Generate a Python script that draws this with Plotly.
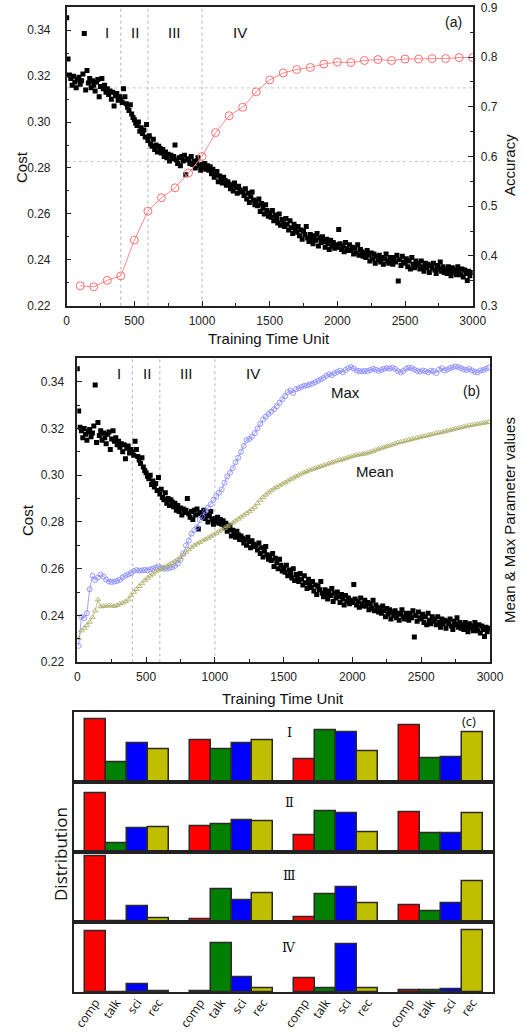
import plotly.graph_objects as go

# ---------------- data ----------------
cost_time = list(range(0, 3000, 10))
cost_values = [
    0.3455, 0.3275, 0.3205, 0.3190, 0.3160, 0.3200, 0.3175, 0.3150, 0.3185, 0.3195,
    0.3165, 0.3180, 0.3210, 0.3386, 0.3140, 0.3225, 0.3170, 0.3190, 0.3150, 0.3180,
    0.3160, 0.3135, 0.3175, 0.3185, 0.3110, 0.3155, 0.3190, 0.3145, 0.3160, 0.3130,
    0.3145, 0.3120, 0.3135, 0.3100, 0.3130, 0.3070, 0.3115, 0.3125, 0.3095, 0.3110,
    0.3100, 0.3085, 0.3145, 0.3110, 0.3080, 0.3065, 0.3050, 0.3075, 0.3035, 0.3020,
    0.3010, 0.2995, 0.2985, 0.3000, 0.2960, 0.2975, 0.2950, 0.2965, 0.2935, 0.2990,
    0.2920, 0.2940, 0.2905, 0.2895, 0.2925, 0.2880, 0.2900, 0.2870, 0.2895, 0.2885,
    0.2865, 0.2880, 0.2850, 0.2870, 0.2845, 0.2860, 0.2830, 0.2855, 0.2840, 0.2850,
    0.2900, 0.2835, 0.2820, 0.2845, 0.2810, 0.2850, 0.2830, 0.2855, 0.2770, 0.2835,
    0.2840, 0.2820, 0.2850, 0.2815, 0.2830, 0.2800, 0.2825, 0.2845, 0.2810, 0.2790,
    0.2815, 0.2800, 0.2820, 0.2795, 0.2810, 0.2790, 0.2805, 0.2775, 0.2795, 0.2760,
    0.2770, 0.2785, 0.2740, 0.2765, 0.2750, 0.2735, 0.2760, 0.2745, 0.2725, 0.2740,
    0.2730, 0.2710, 0.2725, 0.2700, 0.2735, 0.2715, 0.2690, 0.2720, 0.2705, 0.2695,
    0.2700, 0.2680, 0.2710, 0.2665, 0.2690, 0.2650, 0.2675, 0.2695, 0.2660, 0.2640,
    0.2655, 0.2635, 0.2665, 0.2610, 0.2645, 0.2625, 0.2600, 0.2640, 0.2615, 0.2590,
    0.2605, 0.2585, 0.2615, 0.2570, 0.2595, 0.2580, 0.2560, 0.2600, 0.2550, 0.2575,
    0.2565, 0.2545, 0.2580, 0.2555, 0.2530, 0.2570, 0.2540, 0.2515, 0.2555, 0.2535,
    0.2520, 0.2545, 0.2505, 0.2530, 0.2490, 0.2525, 0.2510, 0.2545, 0.2495, 0.2480,
    0.2510, 0.2490, 0.2470, 0.2505, 0.2485, 0.2515, 0.2460, 0.2495, 0.2475, 0.2500,
    0.2480, 0.2455, 0.2490, 0.2470, 0.2445, 0.2485, 0.2460, 0.2475, 0.2450, 0.2465,
    0.2455, 0.2532, 0.2470, 0.2445, 0.2460, 0.2435, 0.2475, 0.2450, 0.2440, 0.2465,
    0.2440, 0.2455, 0.2425, 0.2450, 0.2430, 0.2465, 0.2420, 0.2445, 0.2435, 0.2415,
    0.2430, 0.2410, 0.2440, 0.2420, 0.2395, 0.2430, 0.2405, 0.2425, 0.2385, 0.2415,
    0.2400, 0.2420, 0.2390, 0.2410, 0.2380, 0.2405, 0.2425, 0.2395, 0.2385, 0.2410,
    0.2395, 0.2380, 0.2410, 0.2390, 0.2420, 0.2308, 0.2400, 0.2375, 0.2415, 0.2390,
    0.2385, 0.2405, 0.2370, 0.2395, 0.2360, 0.2410, 0.2380, 0.2365, 0.2395, 0.2375,
    0.2385, 0.2360, 0.2395, 0.2370, 0.2350, 0.2385, 0.2365, 0.2380, 0.2345, 0.2375,
    0.2365, 0.2385, 0.2355, 0.2340, 0.2375, 0.2360, 0.2390, 0.2350, 0.2370, 0.2345,
    0.2360, 0.2340, 0.2370, 0.2350, 0.2330, 0.2365, 0.2345, 0.2355, 0.2335, 0.2370,
    0.2350, 0.2335, 0.2360, 0.2325, 0.2355, 0.2340, 0.2310, 0.2350, 0.2330, 0.2345,
]

acc_time = list(range(100, 3001, 100))
acc_values = [
    0.340, 0.338, 0.351, 0.360, 0.432, 0.490, 0.517, 0.537, 0.567, 0.600,
    0.648, 0.682, 0.699, 0.730, 0.754, 0.768, 0.775, 0.779, 0.786, 0.790,
    0.789, 0.793, 0.795, 0.793, 0.796, 0.796, 0.797, 0.797, 0.799, 0.799,
]

param_time = list(range(10, 3000, 20))
max_values = [
    0.2270, 0.2395, 0.2388, 0.2410, 0.2512, 0.2570, 0.2552, 0.2562, 0.2575, 0.2566,
    0.2554, 0.2545, 0.2543, 0.2545, 0.2548, 0.2553, 0.2563, 0.2570, 0.2576, 0.2581,
    0.2590, 0.2594, 0.2592, 0.2593, 0.2595, 0.2593, 0.2597, 0.2600, 0.2605, 0.2610,
    0.2604, 0.2600, 0.2601, 0.2603, 0.2606, 0.2612, 0.2622, 0.2638, 0.2666, 0.2700,
    0.2720, 0.2750, 0.2765, 0.2778, 0.2808, 0.2822, 0.2845, 0.2862, 0.2875, 0.2895,
    0.2910, 0.2925, 0.2940, 0.2968, 0.2995, 0.3010, 0.3030, 0.3055, 0.3075, 0.3100,
    0.3125, 0.3150, 0.3155, 0.3165, 0.3180, 0.3200, 0.3220, 0.3238, 0.3250, 0.3262,
    0.3272, 0.3282, 0.3295, 0.3310, 0.3325, 0.3338, 0.3355, 0.3362, 0.3352, 0.3368,
    0.3372, 0.3378, 0.3382, 0.3384, 0.3388, 0.3392, 0.3398, 0.3404, 0.3410, 0.3416,
    0.3425, 0.3432, 0.3428, 0.3436, 0.3442, 0.3447, 0.3440, 0.3450, 0.3458, 0.3463,
    0.3456, 0.3448, 0.3445, 0.3444, 0.3446, 0.3445, 0.3450, 0.3455, 0.3452, 0.3446,
    0.3450, 0.3455, 0.3458, 0.3456, 0.3460, 0.3455, 0.3445, 0.3440, 0.3446, 0.3455,
    0.3460, 0.3458, 0.3452, 0.3446, 0.3443, 0.3448, 0.3445, 0.3440, 0.3447, 0.3445,
    0.3437, 0.3452, 0.3458, 0.3448, 0.3452, 0.3458, 0.3462, 0.3465, 0.3462, 0.3458,
    0.3452, 0.3450, 0.3455, 0.3448, 0.3442, 0.3440, 0.3448, 0.3450, 0.3455, 0.3460,
]
mean_values = [
    0.2303, 0.2335, 0.2346, 0.2358, 0.2372, 0.2392, 0.2420, 0.2468, 0.2438, 0.2440,
    0.2441, 0.2443, 0.2442, 0.2440, 0.2444, 0.2450, 0.2454, 0.2460, 0.2468, 0.2485,
    0.2500, 0.2512, 0.2525, 0.2537, 0.2550, 0.2560, 0.2570, 0.2578, 0.2587, 0.2595,
    0.2600, 0.2606, 0.2612, 0.2618, 0.2624, 0.2632, 0.2640, 0.2649, 0.2660, 0.2672,
    0.2682, 0.2692, 0.2700, 0.2707, 0.2713, 0.2720, 0.2726, 0.2732, 0.2738, 0.2745,
    0.2752, 0.2760, 0.2767, 0.2774, 0.2781, 0.2788, 0.2796, 0.2805, 0.2813, 0.2821,
    0.2829, 0.2837, 0.2845, 0.2854, 0.2864, 0.2879, 0.2894, 0.2906, 0.2916, 0.2926,
    0.2935, 0.2943, 0.2949, 0.2956, 0.2963, 0.2969, 0.2976, 0.2983, 0.2989, 0.2995,
    0.3001, 0.3007, 0.3012, 0.3017, 0.3022, 0.3026, 0.3030, 0.3034, 0.3038, 0.3042,
    0.3046, 0.3050, 0.3054, 0.3058, 0.3062, 0.3065, 0.3068, 0.3072, 0.3076, 0.3080,
    0.3083, 0.3086, 0.3088, 0.3090, 0.3092, 0.3095, 0.3099, 0.3103, 0.3108, 0.3112,
    0.3116, 0.3120, 0.3124, 0.3127, 0.3131, 0.3135, 0.3139, 0.3142, 0.3145, 0.3148,
    0.3151, 0.3154, 0.3157, 0.3160, 0.3163, 0.3166, 0.3168, 0.3171, 0.3174, 0.3177,
    0.3180, 0.3182, 0.3184, 0.3187, 0.3190, 0.3193, 0.3196, 0.3199, 0.3202, 0.3204,
    0.3207, 0.3210, 0.3213, 0.3215, 0.3217, 0.3219, 0.3221, 0.3223, 0.3225, 0.3227,
]

phase_bounds = [400, 600, 1000]
phase_names = ["I", "II", "III", "IV"]

categories = ["comp", "talk", "sci", "rec"]
# distribution heights, 4 groups x (comp, talk, sci, rec) per phase
dist_I = [189, 61, 116, 98, 124, 98, 117, 124, 69, 155, 148, 92, 171, 73, 74, 148]
dist_II = [176, 26, 73, 74, 77, 85, 97, 92, 51, 123, 117, 60, 120, 56, 56, 116]
dist_III = [197, 2, 49, 13, 9, 99, 67, 86, 15, 84, 104, 56, 51, 34, 56, 121]
dist_IV = [181, 1, 24, 4, 2, 147, 46, 12, 41, 11, 143, 12, 7, 6, 9, 186]
dist_rows = [dist_I, dist_II, dist_III, dist_IV]
dist_row_names = ["Ⅰ", "Ⅱ", "Ⅲ", "Ⅳ"]
bar_colors = ["#FF0000", "#008000", "#0000FF", "#BFBF00"]

# ---------------- figure ----------------
W, H = 524, 1032
def px(x, y):
    return x / W, 1 - y / H

SANS = "Liberation Sans, Arial, sans-serif"
fig = go.Figure()

# panel (a)
fig.add_trace(go.Scatter(x=cost_time, y=cost_values, mode="markers", xaxis="x", yaxis="y",
                         marker=dict(symbol="square", size=5, color="black"), showlegend=False))
fig.add_trace(go.Scatter(x=acc_time, y=acc_values, mode="lines+markers", xaxis="x", yaxis="y2",
                         line=dict(color="#FF8A8A", width=1),
                         marker=dict(symbol="circle-open", size=8, color="#FF7070", line=dict(width=1)),
                         showlegend=False))

# panel (b)
fig.add_trace(go.Scatter(x=param_time, y=max_values, mode="lines+markers", xaxis="x3", yaxis="y4",
                         line=dict(color="#8C8CFF", width=0.8),
                         marker=dict(symbol="circle-open", size=5, color="#8080FF", line=dict(width=0.8)),
                         showlegend=False))
fig.add_trace(go.Scatter(x=param_time, y=mean_values, mode="lines+markers", xaxis="x3", yaxis="y4",
                         line=dict(color="#B5B578", width=0.8),
                         marker=dict(symbol="triangle-up-open", size=5, color="#ABAB66", line=dict(width=0.8)),
                         showlegend=False))
fig.add_trace(go.Scatter(x=cost_time, y=cost_values, mode="markers", xaxis="x3", yaxis="y3",
                         marker=dict(symbol="square", size=5, color="black"), showlegend=False))

# panel (c)
n_groups = 4
for r, row in enumerate(dist_rows):
    xa = "x%d" % (5 + r)
    ya = "y%d" % (5 + r)
    for c, cat in enumerate(categories):
        pos = [g * (len(categories) + 1) + c for g in range(n_groups)]
        vals = row[c::len(categories)]
        fig.add_trace(go.Bar(x=pos, y=vals, width=1, xaxis=xa, yaxis=ya,
                             marker=dict(color=bar_colors[c], line=dict(color="#2A2A2A", width=1.5)),
                             showlegend=False))

tick_font = dict(family=SANS, size=12, color="#222222")
common_line = dict(showline=True, linecolor="#222222", linewidth=1.5, showgrid=False,
                   zeroline=False, automargin=False)

layout = dict(
    width=W, height=H, margin=dict(l=0, r=0, t=0, b=0, autoexpand=False),
    paper_bgcolor="white", plot_bgcolor="white", bargap=0,
    xaxis=dict(domain=[0.1273, 0.9021], anchor="y", range=[0, 3000], tick0=0, dtick=500,
               ticks="inside", ticklen=5, tickcolor="#222", mirror=True, tickfont=tick_font,
               ticklabelstandoff=3,
               minor=dict(dtick=250, ticks="inside", ticklen=3, tickcolor="#222"), **common_line),
    yaxis=dict(domain=[0.7038, 0.9929], anchor="x", range=[0.22, 0.35], tick0=0.22, dtick=0.02,
               tickformat=".2f", ticks="inside", ticklen=5, tickcolor="#222", tickfont=tick_font,
               ticklabelstandoff=12,
               minor=dict(dtick=0.01, ticks="inside", ticklen=3, tickcolor="#222"), **common_line),
    yaxis2=dict(overlaying="y", anchor="x", side="right", range=[0.3, 0.9], tick0=0.3, dtick=0.1,
                tickformat=".1f", ticks="inside", ticklen=5, tickcolor="#222", tickfont=tick_font,
                ticklabelstandoff=4,
                minor=dict(dtick=0.05, ticks="inside", ticklen=3, tickcolor="#222"), **common_line),
    xaxis3=dict(domain=[0.1475, 0.9351], anchor="y3", range=[0, 3000], tick0=0, dtick=500,
                ticks="inside", ticklen=5, tickcolor="#222", mirror=True, tickfont=tick_font,
                ticklabelstandoff=3,
                minor=dict(dtick=250, ticks="inside", ticklen=3, tickcolor="#222"), **common_line),
    yaxis3=dict(domain=[0.3583, 0.6528], anchor="x3", range=[0.22, 0.35], tick0=0.22, dtick=0.02,
                tickformat=".2f", ticks="inside", ticklen=5, tickcolor="#222", tickfont=tick_font,
                ticklabelstandoff=9,
                minor=dict(dtick=0.01, ticks="inside", ticklen=3, tickcolor="#222"), **common_line),
    yaxis4=dict(overlaying="y3", anchor="x3", side="right", range=[0.22, 0.35],
                showticklabels=False, ticks="", **common_line),
)

row_domains = [[0.2420, 0.3098], [0.1741, 0.2420], [0.1063, 0.1741], [0.0385, 0.1063]]
all_pos = [g * (len(categories) + 1) + c for g in range(n_groups) for c in range(len(categories))]
for r in range(4):
    xk = "xaxis%d" % (5 + r)
    yk = "yaxis%d" % (5 + r)
    bottom = (r == 3)
    layout[xk] = dict(domain=[0.1412, 0.9408], anchor="y%d" % (5 + r), range=[-1.02, 18.98],
                      mirror=True, tickvals=all_pos if bottom else [],
                      ticktext=categories * n_groups if bottom else [],
                      showticklabels=bottom, ticks="", tickangle=-55,
                      ticklabelstandoff=-3,
                      tickfont=dict(family="Open Sans, sans-serif", size=12, color="#111"),
                      **common_line)
    layout[yk] = dict(domain=row_domains[r], anchor="x%d" % (5 + r), range=[0, 209],
                      mirror=True, showticklabels=False, ticks="", **common_line)

fig.update_layout(**layout)

# dashed phase boundaries
for xb in phase_bounds:
    for xr, yr in (("x", "y domain"), ("x3", "y3 domain")):
        fig.add_shape(type="line", xref=xr, yref=yr, x0=xb, x1=xb, y0=0, y1=1,
                      line=dict(color="#B4B4B4", width=1, dash="dot"), layer="below")
# dotted horizontal reference lines in (a)
for yl in (0.3149, 0.2828):
    fig.add_shape(type="line", xref="x domain", yref="y", x0=0, x1=1, y0=yl, y1=yl,
                  line=dict(color="#C8C8C8", width=1, dash="dot"), layer="below")

ann = []
def text(x, y, s, size=15, family=SANS, angle=0, color="#111111"):
    ax, ay = px(x, y)
    ann.append(dict(x=ax, y=ay, xref="paper", yref="paper", text=s, showarrow=False,
                    textangle=angle, font=dict(family=family, size=size, color=color),
                    xanchor="center", yanchor="middle"))

# phase labels in (a) and (b)
for name, xd in zip(phase_names, [300, 505, 795, 1280]):
    ann.append(dict(x=xd, y=px(0, 22)[1], xref="x", yref="paper", text=name, showarrow=False,
                    font=dict(family=SANS, size=15, color="#111")))
    ann.append(dict(x=xd, y=px(0, 373)[1], xref="x3", yref="paper", text=name, showarrow=False,
                    font=dict(family=SANS, size=15, color="#111")))

text(453, 22, "(a)", 14)
text(21, 167, "Cost", 15, angle=-90)
text(509, 165, "Accuracy", 15, angle=-90)
text(269, 339, "Training Time Unit", 15)

text(471, 391, "(b)", 14)
text(345, 392, "Max", 15)
text(375, 472, "Mean", 15)
text(27, 520, "Cost", 15, angle=-90)
text(509, 520, "Mean & Max Parameter values", 15, angle=-90)
text(283, 698, "Training Time Unit", 15)

text(469, 721, "(c)", 13, family="Open Sans, sans-serif")
text(60, 854, "Distribution", 17, family="Open Sans, sans-serif", angle=-90)
for name, yy in zip(dist_row_names, [732, 802, 875, 947]):
    text(289, yy, name, 13, family="DejaVu Serif, Liberation Serif, serif")

fig.update_layout(annotations=ann)
fig.write_html("out.html", config={"displayModeBar": False},
               post_script="document.body.style.margin='0px';document.body.style.overflow='hidden';")
